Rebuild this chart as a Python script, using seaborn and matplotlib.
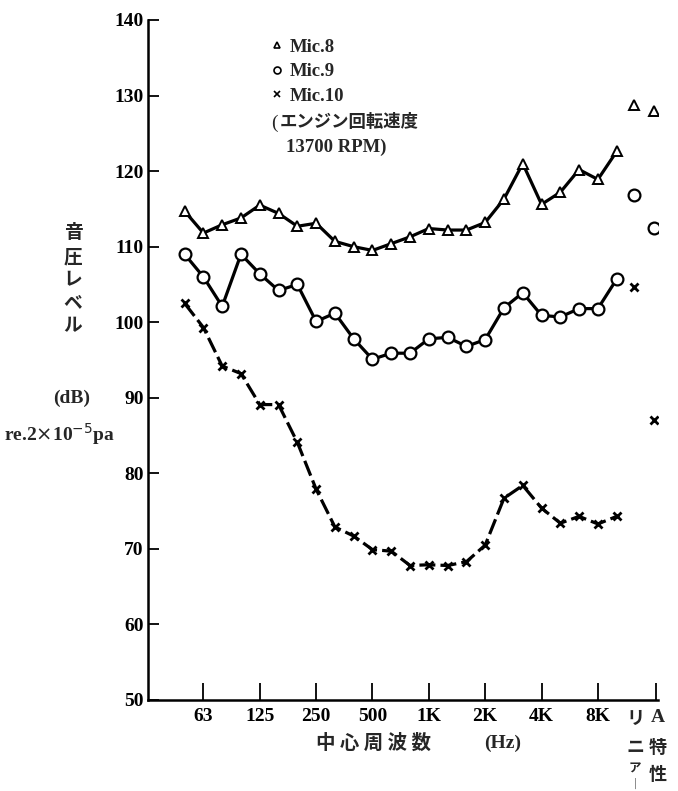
import numpy as np
import matplotlib
matplotlib.use("Agg")
import matplotlib.pyplot as plt
from matplotlib.lines import Line2D
import seaborn as sns

# 1/3 octave centre frequencies (Hz)
bands = ["50", "63", "80", "100", "125", "160", "200", "250", "315", "400",
         "500", "630", "800", "1K", "1.25K", "1.6K", "2K", "2.5K", "3.15K",
         "4K", "5K", "6.3K", "8K", "10K"]
tick_labels = ["63", "125", "250", "500", "1K", "2K", "4K", "8K"]

mic8 = [114.7, 111.8, 112.9, 113.8, 115.5, 114.4, 112.7, 113.1, 110.7, 110.0,
        109.5, 110.4, 111.3, 112.4, 112.2, 112.2, 113.2, 116.3, 121.0, 115.6,
        117.2, 120.2, 118.9, 122.6]
mic9 = [109.0, 106.0, 102.1, 109.0, 106.4, 104.2, 105.0, 100.1, 101.2, 97.8,
        95.1, 95.9, 95.9, 97.8, 98.0, 96.8, 97.7, 101.9, 103.9, 100.9,
        100.7, 101.8, 101.8, 105.7]
mic10 = [102.5, 99.3, 94.2, 93.2, 89.1, 89.1, 84.1, 77.9, 72.9, 71.7,
         69.9, 69.7, 67.8, 67.9, 67.8, 68.3, 70.5, 76.7, 78.4, 75.4,
         73.4, 74.3, 73.3, 74.3]

# overall values: リニアー (linear) and A特性 (A-weighted)
mic8_overall = [128.8, 128.0]
mic9_overall = [116.9, 112.5]
mic10_overall = [104.7, 87.0]

series_names = ["Mic.8", "Mic.9", "Mic.10"]

# ─────────────────────────────────────────────
# Style
# ─────────────────────────────────────────────
sns.set_theme(style="ticks")
plt.rcParams["font.family"] = ["Liberation Serif", "DejaVu Serif"]
JP = ["Noto Sans CJK JP", "DejaVu Sans"]
SERIF = ["Liberation Serif", "DejaVu Serif"]

fig = plt.figure(figsize=(6.78, 7.91), dpi=100)
ax = fig.add_axes([148 / 678, 91 / 791, 510 / 678, 680 / 791])
fig.patch.set_facecolor("white")
ax.set_facecolor("white")

x_band = np.arange(len(bands))
x_overall = [23.9, 25.0]

styles = [
    dict(marker="^", ms=6.5, mew=1.4, linestyle="-"),
    dict(marker="o", ms=8.5, mew=1.6, linestyle="-"),
    dict(marker="x", ms=5.5, mew=2.0, linestyle=(0, (5, 1.6))),
]

for vals, ov, st in zip([mic8, mic9, mic10],
                        [mic8_overall, mic9_overall, mic10_overall], styles):
    sns.lineplot(x=x_band, y=vals, ax=ax, color="black", lw=2.3,
                 marker=st["marker"], ms=st["ms"], mew=st["mew"],
                 mfc="white", mec="black", linestyle=st["linestyle"])
    sns.lineplot(x=x_overall, y=ov, ax=ax, color="black", lw=0,
                 marker=st["marker"], ms=st["ms"], mew=st["mew"],
                 mfc="white", mec="black", linestyle="none")

ax.set_xlim(-1.95, 25.2)
ax.set_ylim(50, 140)
ax.set_yticks(np.arange(50, 141, 10))
ax.set_xticks([1, 4, 7, 10, 13, 16, 19, 22, 25.1])
ax.set_xticklabels(tick_labels + [""])
ax.set_xlabel("")
ax.set_ylabel("")

for lab in ax.get_xticklabels() + ax.get_yticklabels():
    lab.set_fontweight("bold")
ax.tick_params(axis="y", direction="in", length=8, width=1.3, labelsize=14,
               pad=3, colors="black")
ax.tick_params(axis="x", direction="in", length=12, width=1.3, labelsize=14,
               pad=6, colors="black")
sns.despine(ax=ax)
for s in ["left", "bottom"]:
    ax.spines[s].set_linewidth(1.8)
    ax.spines[s].set_color("black")

# legend block
handles = [Line2D([], [], ls="none", marker=m, ms=s, mfc="white", mec="black",
                  mew=1.2) for m, s in [("^", 4.5), ("o", 5), ("x", 4.5)]]
fig.legend(handles, series_names, loc="upper left",
           bbox_to_anchor=(261 / 678, 1 - 29 / 791), frameon=False,
           handlelength=0.7, handletextpad=0.35, labelspacing=0.4,
           borderpad=0, prop={"family": SERIF, "weight": "bold", "size": 13.5})
fig.text(271 / 678, 1 - 123 / 791, "(", family=SERIF, fontsize=14,
         va="center", ha="left")
fig.text(280 / 678, 1 - 122 / 791, "エンジン回転速度", family=JP,
         fontweight="bold", fontsize=12.5, va="center", ha="left")
fig.text(286 / 678, 1 - 147 / 791, "13700 RPM)", family=SERIF,
         fontweight="bold", fontsize=13.5, va="center", ha="left")

# y axis label
for ch, yy in zip("音圧レベル", [232, 257, 280, 303, 326]):
    fig.text(73 / 678, 1 - yy / 791, ch, family=JP, fontsize=13.5,
             fontweight="bold", ha="center", va="center")
fig.text(72 / 678, 1 - 398 / 791, "(dB)", family=SERIF, fontweight="bold",
         fontsize=14, ha="center", va="center")
fig.text(4 / 678, 1 - 434 / 791, r"re.2$\times$10$^{-5}$pa", family=SERIF,
         fontweight="bold", fontsize=14, ha="left", va="center")

# x axis label
fig.text(373 / 678, 1 - 743 / 791, "中 心 周 波 数", family=JP, fontsize=14,
         fontweight="bold", ha="center", va="center")
fig.text(503 / 678, 1 - 743 / 791, "(Hz)", family=SERIF, fontweight="bold",
         fontsize=14, ha="center", va="center")

# overall column labels
for ch, yy, fs in zip(["リ", "ニ", "ア", "｜"], [718, 747, 769, 784],
                      [13, 13, 9, 8]):
    fig.text(635 / 678, 1 - yy / 791, ch, family=JP, fontsize=fs,
             fontweight="bold", ha="center", va="center")
fig.text(658 / 678, 1 - 718 / 791, "A", family=SERIF, fontweight="bold",
         fontsize=14, ha="center", va="center")
for ch, yy in zip("特性", [747, 775]):
    fig.text(658 / 678, 1 - yy / 791, ch, family=JP, fontsize=13,
             fontweight="bold", ha="center", va="center")

plt.savefig("out.png", dpi=100, facecolor="white")
plt.close()
